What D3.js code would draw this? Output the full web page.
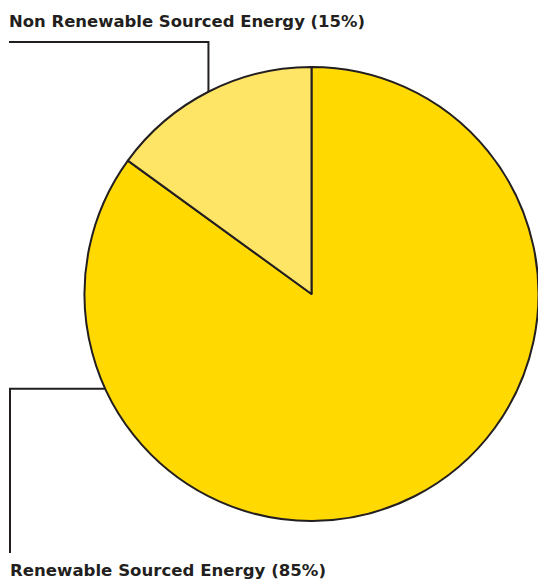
<html>
<head>
<style>
body { margin: 0; background: #fff; }
svg { display: block; }
.label { font-family: 'DejaVu Sans', sans-serif; font-weight: bold; fill: #231f20; }
</style>
</head>
<body>
<svg width="538" height="579"></svg>
<script src="https://d3js.org/d3.v7.min.js"></script>
<script>
// chart data
const categories = ["Renewable Sourced Energy", "Non Renewable Sourced Energy"];
const shares = [85, 15];
const colours = ["#ffd900", "#ffe566"];

const svg = d3.select("svg");
const cx = 311.5, cy = 294, radius = 227;

const pie = d3.pie().sort(null)(shares);
const arc = d3.arc().innerRadius(0).outerRadius(radius);

const g = svg.append("g").attr("transform", `translate(${cx},${cy})`);

g.selectAll("path")
	.data(pie)
	.enter()
	.append("path")
	.attr("d", arc)
	.attr("fill", (d, i) => colours[i])
	.attr("stroke", "#231f20")
	.attr("stroke-width", 2)
	.attr("stroke-linejoin", "round");

// point on the rim at a given angle (radians, clockwise from top)
function rim(a) {
	return [cx + radius * Math.sin(a), cy - radius * Math.cos(a)];
}

// leader for the small slice starts at its mid angle
const nr = pie[1];
const p1 = rim((nr.startAngle + nr.endAngle) / 2);
// leader for the big slice sits on the lower left
const p0 = rim(245.3 * Math.PI / 180);

const line = d3.line();
svg.append("path")
	.attr("d", line([p1, [p1[0], 42], [9, 42]]))
	.attr("fill", "none").attr("stroke", "#231f20").attr("stroke-width", 2);
svg.append("path")
	.attr("d", line([p0, [10, p0[1]], [10, 553]]))
	.attr("fill", "none").attr("stroke", "#231f20").attr("stroke-width", 2);

svg.append("text")
	.attr("class", "label")
	.attr("x", 9).attr("y", 27)
	.attr("font-size", 15.5)
	.attr("textLength", 356)
	.attr("lengthAdjust", "spacingAndGlyphs")
	.text(`${categories[1]} (${shares[1]}%)`);

svg.append("text")
	.attr("class", "label")
	.attr("x", 10).attr("y", 576)
	.attr("font-size", 15.5)
	.attr("textLength", 316)
	.attr("lengthAdjust", "spacingAndGlyphs")
	.text(`${categories[0]} (${shares[0]}%)`);
</script>
</body>
</html>
